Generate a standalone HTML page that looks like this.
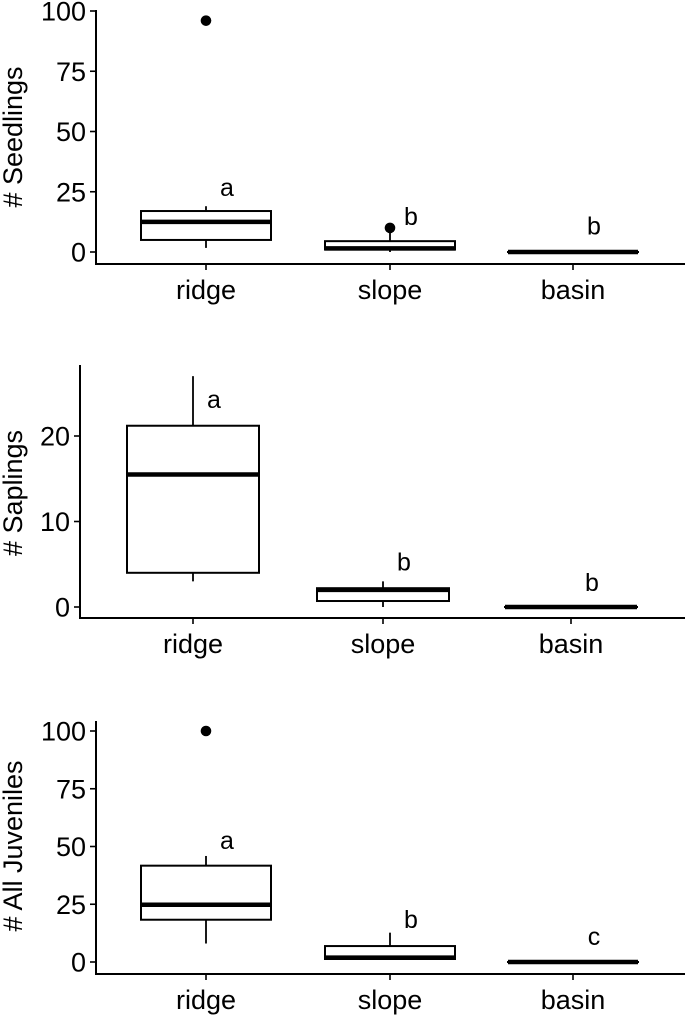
<!DOCTYPE html>
<html><head><meta charset="utf-8"><style>
html,body{margin:0;padding:0;background:#fff;}
svg{display:block;font-family:"Liberation Sans",Arial,sans-serif;}
</style></head><body>
<svg id="chart" width="685" height="1015" viewBox="0 0 685 1015" xmlns="http://www.w3.org/2000/svg"></svg>
<script>
const categories = ["ridge","slope","basin"];
// Panel 1: Seedlings
const seedLow = [1.7, 0, 0];
const seedQ1 = [5, 1, 0];
const seedMed = [12.5, 1.5, 0];
const seedQ3 = [17, 4.5, 0];
const seedHigh = [19, 8, 0];
const seedOut = [[96],[10],[]];
const seedLetters = ["a","b","b"];
const seedLetterY = [27, 15, 11];
const seedTicks = [0,25,50,75,100];
// Panel 2: Saplings
const sapLow = [3, 0, 0];
const sapQ1 = [4, 0.7, 0];
const sapMed = [15.5, 2.0, 0];
const sapQ3 = [21.2, 2.2, 0];
const sapHigh = [27, 3, 0];
const sapOut = [[],[],[]];
const sapLetters = ["a","b","b"];
const sapLetterY = [24.3, 5.3, 2.9];
const sapTicks = [0,10,20];
// Panel 3: All juveniles
const juvLow = [8, 1.3, 0];
const juvQ1 = [18.3, 1.3, 0];
const juvMed = [24.8, 1.9, 0];
const juvQ3 = [41.7, 6.9, 0];
const juvHigh = [45.9, 12.7, 0];
const juvOut = [[100],[],[]];
const juvLetters = ["a","b","c"];
const juvLetterY = [52.8, 18.6, 11.3];
const juvTicks = [0,25,50,75,100];

const NS = "http://www.w3.org/2000/svg";
const svg = document.getElementById("chart");
function mk(tag, attrs, parent){const e=document.createElementNS(NS,tag);for(const k in attrs)e.setAttribute(k,attrs[k]);(parent||svg).appendChild(e);return e;}

function panel(p){
  const g = mk("g",{});
  
  
  const y = v => p.y0 - v * p.ppu;
  const x = i => p.cx[i];
  const ya = mk("line",{x1:p.ax,y1:p.top,x2:p.ax,y2:p.bottom+1,stroke:"#000","stroke-width":2},g);
  
  
  const xa = mk("line",{x1:p.ax-1,y1:p.bottom,x2:685,y2:p.bottom,stroke:"#000","stroke-width":2},g);
  
  
  p.ticks.forEach(t=>{
    mk("line",{x1:p.ax-6,y1:y(t),x2:p.ax,y2:y(t),stroke:"#000","stroke-width":1.6},g);
    const tl = mk("text",{x:p.ax-10,y:y(t)+9.5,"text-anchor":"end","font-size":27,fill:"#000"},g);
    tl.textContent = t;
    
    
  });
  categories.forEach((c,i)=>{
    mk("line",{x1:x(i),y1:p.bottom,x2:x(i),y2:p.bottom+6,stroke:"#000","stroke-width":1.6},g);
    const cl = mk("text",{x:x(i),y:p.bottom+35,"text-anchor":"middle","font-size":27,fill:"#000"},g);
    cl.textContent = c;
    
    
    const w1 = mk("line",{x1:x(i),y1:y(p.low[i]),x2:x(i),y2:y(p.q1[i]),stroke:"#000","stroke-width":1.8},g);
    
    
    const w2 = mk("line",{x1:x(i),y1:y(p.q3[i]),x2:x(i),y2:y(p.high[i]),stroke:"#000","stroke-width":1.8},g);
    
    
    const bh = Math.max(y(p.q1[i]) - y(p.q3[i]), 0.01);
    const box = mk("rect",{x:x(i)-p.hw,y:y(p.q3[i]),width:2*p.hw,height:bh,fill:"#fff",stroke:"#000","stroke-width":2},g);
    
    
    const md = mk("line",{x1:x(i)-p.hw,y1:y(p.med[i]),x2:x(i)+p.hw,y2:y(p.med[i]),stroke:"#000","stroke-width":4.5},g);
    
    
    p.out[i].forEach(o=>{
      const pt = mk("circle",{cx:x(i),cy:y(o),r:5.3,fill:"#000"},g);
      
      
    });
    const lt = mk("text",{x:x(i)+21,y:y(p.letterY[i])+9,"text-anchor":"middle","font-size":25,fill:"#000"},g);
    lt.textContent = p.letters[i];
    
    
  });
  const tt = mk("text",{x:0,y:0,"text-anchor":"middle","font-size":27,fill:"#000",transform:"translate("+p.tx+","+p.ty+") rotate(-90)"},g);
  tt.textContent = p.title;
  
  
}

panel({name:"seedlings-panel",ax:96,top:10,bottom:264,y0:252,ppu:2.41,cx:[206,390,573],hw:65,
  low:seedLow,q1:seedQ1,med:seedMed,q3:seedQ3,high:seedHigh,out:seedOut,letters:seedLetters,letterY:seedLetterY,
  ticks:seedTicks,title:"# Seedlings",tx:22,ty:137});
panel({name:"saplings-panel",ax:80,top:365,bottom:618,y0:607,ppu:8.55,cx:[193,383,571],hw:66,
  low:sapLow,q1:sapQ1,med:sapMed,q3:sapQ3,high:sapHigh,out:sapOut,letters:sapLetters,letterY:sapLetterY,
  ticks:sapTicks,title:"# Saplings",tx:22,ty:493});
panel({name:"juveniles-panel",ax:96,top:721,bottom:974,y0:962,ppu:2.31,cx:[206,390,573],hw:65,
  low:juvLow,q1:juvQ1,med:juvMed,q3:juvQ3,high:juvHigh,out:juvOut,letters:juvLetters,letterY:juvLetterY,
  ticks:juvTicks,title:"# All Juveniles",tx:22,ty:846});
</script>
</body></html>
